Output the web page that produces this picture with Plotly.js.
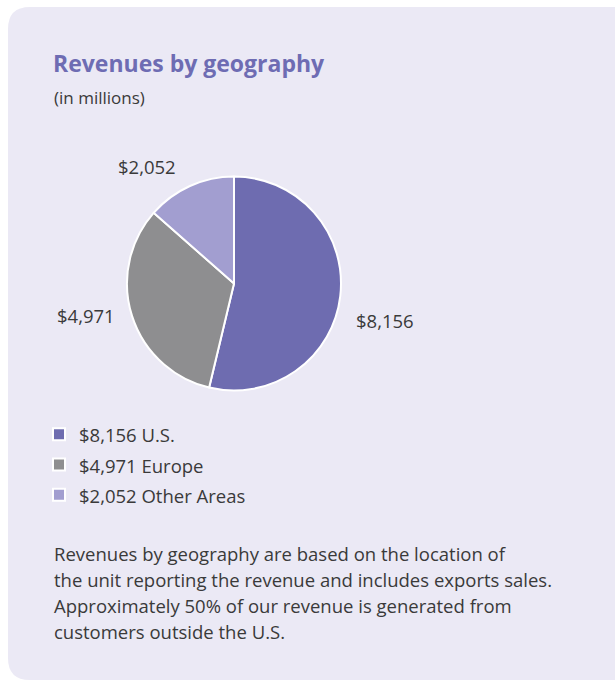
<!DOCTYPE html>
<html>
<head>
<meta charset="utf-8">
<script src="https://cdn.plot.ly/plotly-3.0.1.min.js"></script>
<style>
  html, body { margin: 0; padding: 0; background: #ffffff; }
  #chart { width: 615px; height: 681px; }
</style>
</head>
<body>
<div id="chart"></div>
<script>
// ---- data ----
const regions = ["U.S.", "Europe", "Other Areas"];
const revenues = [8156, 4971, 2052];
const sliceColors = ["#6e6cb0", "#8e8e90", "#a29ed0"];
const titleText = "Revenues by geography";
const subtitleText = "(in millions)";
const noteLines = [
  "Revenues by geography are based on the location of",
  "the unit reporting the revenue and includes exports sales.",
  "Approximately 50% of our revenue is generated from",
  "customers outside the U.S."
];

// ---- helpers ----
const W = 615, H = 681;
const px = x => x / W;
const py = y => 1 - y / H;
const fmt = v => "$" + v.toLocaleString("en-US");
const span = (s, size) => '<span style="font-size:' + size + 'px">' + s + "</span>";

const legendLabels = regions.map((r, i) => span(fmt(revenues[i]) + " " + r, 18.5));

// rounded card path (paper coords)
const L = 8, T = 7, B = 680, R = 640, rad = 22;
const cardPath =
  `M ${px(L + rad)} ${py(T)} L ${px(R)} ${py(T)} L ${px(R)} ${py(B)} ` +
  `L ${px(L + rad)} ${py(B)} Q ${px(L)} ${py(B)} ${px(L)} ${py(B - rad)} ` +
  `L ${px(L)} ${py(T + rad)} Q ${px(L)} ${py(T)} ${px(L + rad)} ${py(T)} Z`;

// outside value labels placement (layout only)
const labelPos = [
  { x: 385, y: 320 },   // U.S.
  { x: 85.5, y: 315 },  // Europe
  { x: 147, y: 166 }    // Other Areas
];

const trace = {
  type: "pie",
  labels: legendLabels,
  values: revenues,
  textinfo: "none",
  sort: false,
  direction: "clockwise",
  rotation: 0,
  marker: { colors: sliceColors, line: { color: "#ffffff", width: 2 } },
  domain: { x: [px(127), px(341)], y: [py(390.5), py(176.5)] },
  hoverinfo: "none"
};

const valueAnnotations = revenues.map((v, i) => ({
  text: fmt(v), xref: "paper", yref: "paper",
  x: px(labelPos[i].x), y: py(labelPos[i].y), xanchor: "center", yanchor: "middle",
  showarrow: false, font: { family: "Open Sans", size: 18.5, color: "#3a3a3a" }
}));

const layout = {
  width: W, height: H,
  margin: { l: 0, r: 0, t: 0, b: 0 },
  paper_bgcolor: "#ffffff",
  font: { family: "Open Sans", color: "#3a3a3a" },
  title: {
    text: "<b>" + titleText + "</b>",
    x: px(53), xanchor: "left", xref: "paper",
    y: py(64), yanchor: "middle", yref: "paper",
    font: { family: "Open Sans", size: 23, color: "#6e6cb3" }
  },
  shapes: [{
    type: "path", path: cardPath, xref: "paper", yref: "paper",
    fillcolor: "#ebe9f5", line: { width: 0 }, layer: "below"
  }],
  showlegend: true,
  legend: {
    x: px(39), xanchor: "left", y: py(414), yanchor: "top",
    font: { family: "Open Sans", size: 21, color: "#3a3a3a" },
    bgcolor: "rgba(0,0,0,0)", itemwidth: 30, traceorder: "normal"
  },
  annotations: [
    {
      text: subtitleText, xref: "paper", yref: "paper",
      x: px(52), y: py(97), xanchor: "left", yanchor: "middle",
      showarrow: false, font: { family: "Open Sans", size: 17, color: "#3a3a3a" }
    },
    {
      text: noteLines.map(s => span(s, 18.5)).join("<br>"),
      xref: "paper", yref: "paper",
      x: px(52), y: py(539), xanchor: "left", yanchor: "top", align: "left",
      showarrow: false, font: { family: "Open Sans", size: 20, color: "#3a3a3a" }
    }
  ].concat(valueAnnotations)
};

Plotly.newPlot("chart", [trace], layout, { displayModeBar: false, staticPlot: true });
</script>
</body>
</html>
